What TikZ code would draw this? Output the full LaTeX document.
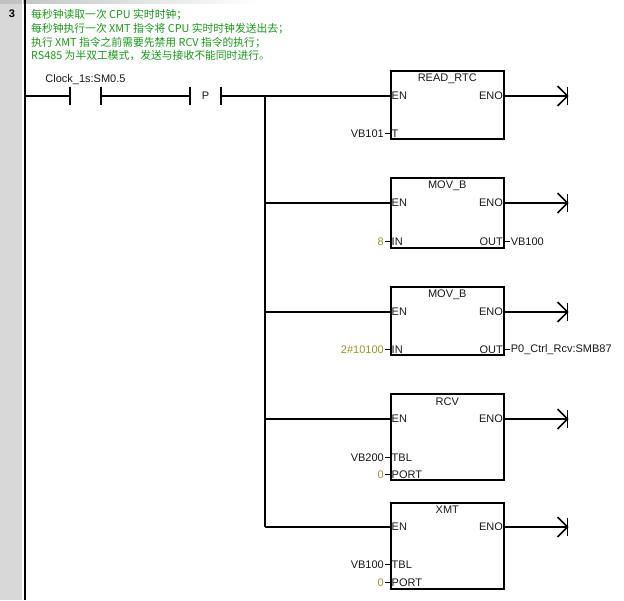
\documentclass[tikz,border=0pt]{standalone}
\usepackage{fontspec}
\setmainfont{Liberation Sans}
\newfontfamily\cjk{Noto Sans CJK SC}
\usepackage{xcolor}
\usetikzlibrary{
    arrows.meta,
    positioning,
    calc
}
\definecolor{notegreen}{RGB}{20,155,20}
\definecolor{constolive}{RGB}{150,150,40}
\definecolor{guttergray}{RGB}{216,216,216}

\tikzset{
    wire/.style={line width=1.6pt},
    tick/.style={line width=1pt},
    plcfont/.style={font=\fontsize{11}{12}\selectfont, text=black!90},
    blockbox/.style={draw, line width=1.6pt, anchor=north west, minimum width=113pt, inner sep=0pt},
    blocktitle/.style={plcfont, inner sep=0pt},
    pinin/.style={plcfont, anchor=west, inner sep=1.5pt},
    pinout/.style={plcfont, anchor=east, inner sep=1.5pt},
    operand/.style={plcfont, anchor=east, inner sep=1pt},
    dest/.style={plcfont, anchor=west, inner sep=1pt},
    constval/.style={operand, text=constolive},
    contact/.style={plcfont, minimum width=31pt, minimum height=18pt, inner sep=0pt}
}

\begin{document}
\begin{tikzpicture}[x=1pt, y=-1pt]
    \useasboundingbox (0,0) rectangle (624,600);
    \fill[guttergray] (0,0) rectangle (22,600);
    \shade[left color=black!25, right color=white] (0,0.5) rectangle (258,3.5);
    \draw[white, line width=1pt] (22.5,0) -- (22.5,600);
    \node[font=\bfseries\fontsize{11}{12}\selectfont] (netno) at (12,14) {3};
    \coordinate (railTop) at (25,0);
    \coordinate (railBot) at (25,600);
    \draw[line width=1.8pt] (railTop) -- (railBot);

    \node[anchor=north west, align=left, inner sep=0pt, text=notegreen,
          font=\cjk\fontsize{10.8}{13.6}\selectfont] (note) at (31,9.5)
        {每秒钟读取一次 CPU 实时时钟；\\
         每秒钟执行一次 XMT 指令将 CPU 实时时钟发送出去；\\
         执行 XMT 指令之前需要先禁用 RCV 指令的执行；\\
         RS485 为半双工模式，发送与接收不能同时进行。};

    % contacts
    \coordinate (railRung) at (25,96);
    \node[contact] (clk) at (85.5,96) {};
    \node[plcfont, above=0pt of clk, inner sep=2pt] (clkname) {Clock\_1s:SM0.5};
    \node[contact] (pos) at (205.5,96) {P};
    \draw[wire] (clk.north west) -- (clk.south west);
    \draw[wire] (clk.north east) -- (clk.south east);
    \draw[wire] (pos.north west) -- (pos.south west);
    \draw[wire] (pos.north east) -- (pos.south east);

    % READ_RTC
    \node[blockbox, minimum height=68pt] (rtc) at (390,70) {};
    \node[blocktitle] (rtcname) at ($(rtc.north)+(0,9)$) {READ\_RTC};
    \node[pinin] (rtcEN) at ($(rtc.north west)+(0,26)$) {EN};
    \node[pinout] (rtcENO) at ($(rtc.north east)+(0,26)$) {ENO};
    \node[pinin] (rtcT) at ($(rtc.south west)+(0,-6)$) {T};
    \node[operand] (rtcTval) at ($(rtcT.west)+(-5,0)$) {VB101};
    \coordinate (rtcEnd) at ($(rtcENO.east)+(63,0)$);

    % MOV_B
    \node[blockbox, minimum height=70pt] (mova) at (390,177) {};
    \node[blocktitle] (movaname) at ($(mova.north)+(0,9)$) {MOV\_B};
    \node[pinin] (movaEN) at ($(mova.north west)+(0,26)$) {EN};
    \node[pinout] (movaENO) at ($(mova.north east)+(0,26)$) {ENO};
    \node[pinin] (movaIN) at ($(mova.south west)+(0,-7)$) {IN};
    \node[pinout] (movaOUT) at ($(mova.south east)+(0,-7)$) {OUT};
    \node[constval] (movaINval) at ($(movaIN.west)+(-5,0)$) {8};
    \node[dest] (movaOUTval) at ($(movaOUT.east)+(5,0)$) {VB100};
    \coordinate (movaEnd) at ($(movaENO.east)+(63,0)$);

    % MOV_B
    \node[blockbox, minimum height=68pt] (movb) at (390,286) {};
    \node[blocktitle] (movbname) at ($(movb.north)+(0,9)$) {MOV\_B};
    \node[pinin] (movbEN) at ($(movb.north west)+(0,26)$) {EN};
    \node[pinout] (movbENO) at ($(movb.north east)+(0,26)$) {ENO};
    \node[pinin] (movbIN) at ($(movb.south west)+(0,-6)$) {IN};
    \node[pinout] (movbOUT) at ($(movb.south east)+(0,-6)$) {OUT};
    \node[constval] (movbINval) at ($(movbIN.west)+(-5,0)$) {2\#10100};
    \node[dest] (movbOUTval) at ($(movbOUT.east)+(5,0)$) {P0\_Ctrl\_Rcv:SMB87};
    \coordinate (movbEnd) at ($(movbENO.east)+(63,0)$);

    % RCV
    \node[blockbox, minimum height=86pt] (rcv) at (390,393) {};
    \node[blocktitle] (rcvname) at ($(rcv.north)+(0,9)$) {RCV};
    \node[pinin] (rcvEN) at ($(rcv.north west)+(0,26)$) {EN};
    \node[pinout] (rcvENO) at ($(rcv.north east)+(0,26)$) {ENO};
    \node[pinin] (rcvTBL) at ($(rcv.south west)+(0,-23)$) {TBL};
    \node[pinin] (rcvPORT) at ($(rcv.south west)+(0,-6)$) {PORT};
    \node[operand] (rcvTBLval) at ($(rcvTBL.west)+(-5,0)$) {VB200};
    \node[constval] (rcvPORTval) at ($(rcvPORT.west)+(-5,0)$) {0};
    \coordinate (rcvEnd) at ($(rcvENO.east)+(63,0)$);

    % XMT
    \node[blockbox, minimum height=86pt] (xmt) at (390,502) {};
    \node[blocktitle] (xmtname) at ($(xmt.north)+(0,8)$) {XMT};
    \node[pinin] (xmtEN) at ($(xmt.north west)+(0,25)$) {EN};
    \node[pinout] (xmtENO) at ($(xmt.north east)+(0,25)$) {ENO};
    \node[pinin] (xmtTBL) at ($(xmt.south west)+(0,-25)$) {TBL};
    \node[pinin] (xmtPORT) at ($(xmt.south west)+(0,-7)$) {PORT};
    \node[operand] (xmtTBLval) at ($(xmtTBL.west)+(-5,0)$) {VB100};
    \node[constval] (xmtPORTval) at ($(xmtPORT.west)+(-5,0)$) {0};
    \coordinate (xmtEnd) at ($(xmtENO.east)+(63,0)$);

    % rung
    \coordinate (bus) at (265,96);
    \draw[wire] (railRung) -- (clk.west);
    \draw[wire] (clk.east) -- (pos.west);
    \draw[wire] (pos.east) -- (rtcEN.west);
    \draw[wire] (bus) -- (bus |- xmtEN.west);
    \draw[wire] (bus |- movaEN.west) -- (movaEN.west);
    \draw[wire] (bus |- movbEN.west) -- (movbEN.west);
    \draw[wire] (bus |- rcvEN.west) -- (rcvEN.west);
    \draw[wire] (bus |- xmtEN.west) -- (xmtEN.west);

    % operand ticks
    \draw[tick] (rtcTval.east) -- (rtcT.west);
    \draw[tick] (movaINval.east) -- (movaIN.west);
    \draw[tick] (movaOUT.east) -- (movaOUTval.west);
    \draw[tick] (movbINval.east) -- (movbIN.west);
    \draw[tick] (movbOUT.east) -- (movbOUTval.west);
    \draw[tick] (rcvTBLval.east) -- (rcvTBL.west);
    \draw[tick] (rcvPORTval.east) -- (rcvPORT.west);
    \draw[tick] (xmtTBLval.east) -- (xmtTBL.west);
    \draw[tick] (xmtPORTval.east) -- (xmtPORT.west);

    % outputs
    \foreach \b in {rtc,mova,movb,rcv,xmt} {
        \draw[wire] (\b ENO.east) -- (\b End);
        \draw[wire] ($(\b End)+(-10,-10)$) -- (\b End) -- ($(\b End)+(-10,10)$);
        \draw[wire] ($(\b End)+(0,-9)$) -- ($(\b End)+(0,9)$);
    }
\end{tikzpicture}
\end{document}
